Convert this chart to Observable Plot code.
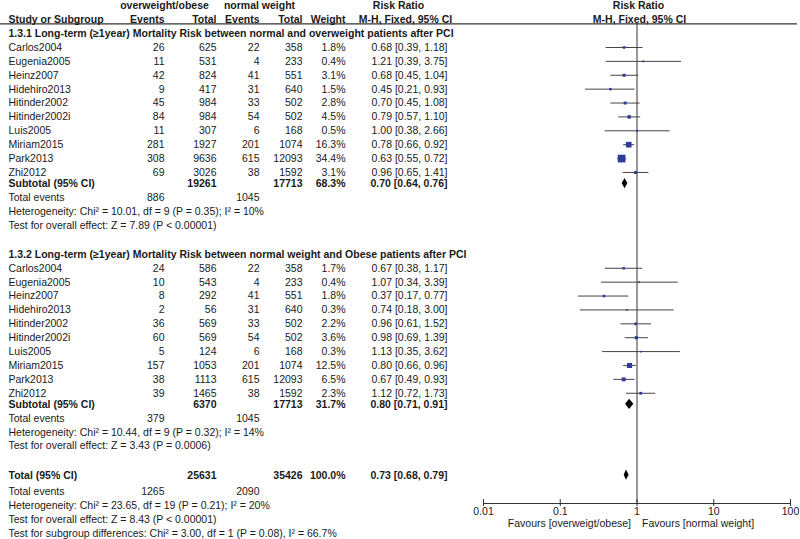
<!DOCTYPE html>
<html><head><meta charset="utf-8">
<script src="https://cdn.jsdelivr.net/npm/d3@7"></script>
<script src="https://cdn.jsdelivr.net/npm/@observablehq/plot@0.6"></script>
<style>
body{margin:0;background:#fff;}
#wrap{position:relative;width:800px;height:539px;}
#wrap svg{position:absolute;left:0;top:0;}
</style></head><body><div id="wrap"></div>
<script>
// ---------- data ----------
const studies = ["Carlos2004","Eugenia2005","Heinz2007","Hidehiro2013","Hitinder2002","Hitinder2002i","Luis2005","Miriam2015","Park2013","Zhi2012"];

const g1Title = "1.3.1 Long-term (\u22651year) Mortality Risk between normal and overweight patients after PCI";
const g1EventsOW = [26,11,42,9,45,84,11,281,308,69];
const g1TotalOW  = [625,531,824,417,984,984,307,1927,9636,3026];
const g1EventsNW = [22,4,41,31,33,54,6,201,615,38];
const g1TotalNW  = [358,233,551,640,502,502,168,1074,12093,1592];
const g1Weight   = [1.8,0.4,3.1,1.5,2.8,4.5,0.5,16.3,34.4,3.1];
const g1RR       = [0.68,1.21,0.68,0.45,0.70,0.79,1.00,0.78,0.63,0.96];
const g1Lo       = [0.39,0.39,0.45,0.21,0.45,0.57,0.38,0.66,0.55,0.65];
const g1Hi       = [1.18,3.75,1.04,0.93,1.08,1.10,2.66,0.92,0.72,1.41];
const g1Sub      = {totOW:19261, totNW:17713, weight:68.3, rr:0.70, lo:0.64, hi:0.76, evOW:886, evNW:1045};
const g1Het      = "Heterogeneity: Chi\u00b2 = 10.01, df = 9 (P = 0.35); I\u00b2 = 10%";
const g1Test     = "Test for overall effect: Z = 7.89 (P < 0.00001)";

const g2Title = "1.3.2 Long-term (\u22651year) Mortality Risk between normal weight and Obese patients after PCI";
const g2EventsOW = [24,10,8,2,36,60,5,157,38,39];
const g2TotalOW  = [586,543,292,56,569,569,124,1053,1113,1465];
const g2EventsNW = [22,4,41,31,33,54,6,201,615,38];
const g2TotalNW  = [358,233,551,640,502,502,168,1074,12093,1592];
const g2Weight   = [1.7,0.4,1.8,0.3,2.2,3.6,0.3,12.5,6.5,2.3];
const g2RR       = [0.67,1.07,0.37,0.74,0.96,0.98,1.13,0.80,0.67,1.12];
const g2Lo       = [0.38,0.34,0.17,0.18,0.61,0.69,0.35,0.66,0.49,0.72];
const g2Hi       = [1.17,3.39,0.77,3.00,1.52,1.39,3.62,0.96,0.93,1.73];
const g2Sub      = {totOW:6370, totNW:17713, weight:31.7, rr:0.80, lo:0.71, hi:0.91, evOW:379, evNW:1045};
const g2Het      = "Heterogeneity: Chi\u00b2 = 10.44, df = 9 (P = 0.32); I\u00b2 = 14%";
const g2Test     = "Test for overall effect: Z = 3.43 (P = 0.0006)";

const totalSum   = {totOW:25631, totNW:35426, weight:100.0, rr:0.73, lo:0.68, hi:0.79, evOW:1265, evNW:2090};
const totalHet   = "Heterogeneity: Chi\u00b2 = 23.65, df = 19 (P = 0.21); I\u00b2 = 20%";
const totalTest  = "Test for overall effect: Z = 8.43 (P < 0.00001)";
const subgroupTest = "Test for subgroup differences: Chi\u00b2 = 3.00, df = 1 (P = 0.08), I\u00b2 = 66.7%";

const axisTicks = [0.01, 0.1, 1, 10, 100];
const favoursLeft = "Favours [overweigt/obese]";
const favoursRight = "Favours [normal weight]";

// ---------- layout ----------
const W = 800, H = 539;
const X = {name:8, evOW:164, totOW:216, evNW:259, totNW:302, weight:345, rr:447,
           hOW:164, hNW:259, hRR:398, hMH:405, fRR:638, fMH:639};
const FONT = "Liberation Sans, Arial, Helvetica, sans-serif";
const FS = 10.5;
const TXT = "#1a1a1a";
const BLUE = "#2f3b9c";

const texts = [];
function t(row, x, text, bold=false, anchor="end") { texts.push({row, x, text: String(text), bold, anchor}); }
const studyRows = [], diamonds = [];
const fmtRR = (r, l, h) => `${r.toFixed(2)} [${l.toFixed(2)}, ${h.toFixed(2)}]`;

// headers
t(0, X.hOW, "overweight/obese", true, "middle");
t(0, X.hNW, "normal weight", true, "middle");
t(0, X.hRR, "Risk Ratio", true, "middle");
t(0, X.fRR, "Risk Ratio", true, "middle");
t(1, X.name, "Study or Subgroup", true, "start");
t(1, X.evOW, "Events", true); t(1, X.totOW, "Total", true);
t(1, X.evNW, "Events", true); t(1, X.totNW, "Total", true);
t(1, X.weight, "Weight", true);
t(1, X.hMH, "M-H, Fixed, 95% CI", true, "middle");
t(1, X.fMH, "M-H, Fixed, 95% CI", true, "middle");

function group(titleRow, title, evOW, totOW, evNW, totNW, wt, rr, lo, hi, sub, het, test, id) {
  t(titleRow, X.name, title, true, "start");
  studies.forEach((s, i) => {
    const r = titleRow + 1 + i;
    t(r, X.name, s, false, "start");
    t(r, X.evOW, evOW[i]); t(r, X.totOW, totOW[i]);
    t(r, X.evNW, evNW[i]); t(r, X.totNW, totNW[i]);
    t(r, X.weight, wt[i].toFixed(1) + "%");
    t(r, X.rr, fmtRR(rr[i], lo[i], hi[i]));
    studyRows.push({row: r, rr: rr[i], lo: lo[i], hi: hi[i], w: wt[i]});
  });
  const sr = titleRow + 10.8;
  t(sr, X.name, "Subtotal (95% CI)", true, "start");
  t(sr, X.totOW, sub.totOW, true); t(sr, X.totNW, sub.totNW, true);
  t(sr, X.weight, sub.weight.toFixed(1) + "%", true);
  t(sr, X.rr, fmtRR(sub.rr, sub.lo, sub.hi), true);
  t(sr + 1, X.name, "Total events", false, "start");
  t(sr + 1, X.evOW, sub.evOW); t(sr + 1, X.evNW, sub.evNW);
  t(sr + 2, X.name, het, false, "start");
  t(sr + 3, X.name, test, false, "start");
  diamonds.push({id, row: sr, ...sub});
}
group(2, g1Title, g1EventsOW, g1TotalOW, g1EventsNW, g1TotalNW, g1Weight, g1RR, g1Lo, g1Hi, g1Sub, g1Het, g1Test, "g1");
group(17.9, g2Title, g2EventsOW, g2TotalOW, g2EventsNW, g2TotalNW, g2Weight, g2RR, g2Lo, g2Hi, g2Sub, g2Het, g2Test, "g2");

const tr = 33.8;
t(tr, X.name, "Total (95% CI)", true, "start");
t(tr, X.totOW, totalSum.totOW, true); t(tr, X.totNW, totalSum.totNW, true);
t(tr, X.weight, totalSum.weight.toFixed(1) + "%", true);
t(tr, X.rr, fmtRR(totalSum.rr, totalSum.lo, totalSum.hi), true);
t(tr + 1.2, X.name, "Total events", false, "start");
t(tr + 1.2, X.evOW, totalSum.evOW); t(tr + 1.2, X.evNW, totalSum.evNW);
t(tr + 2.2, X.name, totalHet, false, "start");
t(tr + 3.2, X.name, totalTest, false, "start");
t(tr + 4.2, X.name, subgroupTest, false, "start");
diamonds.push({id: "tot", row: tr, ...totalSum});

const yScale = {domain: [0, 38], range: [5.33, 533]};
const headerRuleRow = 1.3;
const axisRow = 35.84;

const textMarks = [];
for (const anchor of ["start", "middle", "end"]) {
  for (const bold of [false, true]) {
    const d = texts.filter(e => e.anchor === anchor && e.bold === bold);
    if (d.length) textMarks.push(Plot.text(d, {x: "x", y: "row", text: "text", textAnchor: anchor,
      fontWeight: bold ? "bold" : "normal", fontSize: FS, fill: TXT}));
  }
}

const table = Plot.plot({
  width: W, height: H, margin: 0,
  style: {fontFamily: FONT, background: "transparent", overflow: "visible"},
  x: {domain: [0, W], range: [0, W], axis: null},
  y: {...yScale, axis: null},
  marks: [
    Plot.ruleY([headerRuleRow], {x1: 0, x2: 797, stroke: "#333", strokeWidth: 1.2}),
    ...textMarks
  ]
});

// diamond polygons
const diamondPts = diamonds.flatMap(d => [
  {id: d.id, x: d.lo, y1: d.row, y2: d.row},
  {id: d.id, x: d.rr, y1: d.row - 0.37, y2: d.row + 0.37},
  {id: d.id, x: d.hi, y1: d.row, y2: d.row}
]);

const forest = Plot.plot({
  width: W, height: H, margin: 0,
  style: {fontFamily: FONT, background: "transparent", overflow: "visible"},
  x: {type: "log", domain: [0.01, 100], range: [483, 790], axis: null},
  y: {...yScale, axis: null},
  r: {type: "sqrt", domain: [0, 34.4], range: [0.6, 4.35]},
  marks: [
    Plot.ruleX([1], {y1: headerRuleRow, y2: axisRow, stroke: "#333", strokeWidth: 1}),
    Plot.link(studyRows, {x1: "lo", x2: "hi", y1: "row", y2: "row", stroke: "#444", strokeWidth: 1}),
    Plot.dot(studyRows, {x: "rr", y: "row", r: "w", symbol: "square", fill: BLUE, stroke: "none"}),
    Plot.areaY(diamondPts, {x: "x", y1: "y1", y2: "y2", z: "id", fill: "black", curve: "linear"}),
    Plot.ruleY([axisRow], {x1: axisTicks[0], x2: axisTicks[axisTicks.length - 1], stroke: "#333", strokeWidth: 1}),
    Plot.ruleX(axisTicks, {y1: axisRow - 0.28, y2: axisRow + 0.22, stroke: "#333", strokeWidth: 1}),
    Plot.text(axisTicks, {x: d => d, y: axisRow + 0.62, text: d => String(d), fontSize: FS, fill: TXT}),
    Plot.text([favoursLeft], {x: 1, y: axisRow + 1.45, text: d => d, textAnchor: "end", dx: -6, fontSize: FS, fill: TXT}),
    Plot.text([favoursRight], {x: 1, y: axisRow + 1.45, text: d => d, textAnchor: "start", dx: 5, fontSize: FS, fill: TXT})
  ]
});

const wrap = document.getElementById("wrap");
wrap.appendChild(table);
wrap.appendChild(forest);
</script></body></html>
